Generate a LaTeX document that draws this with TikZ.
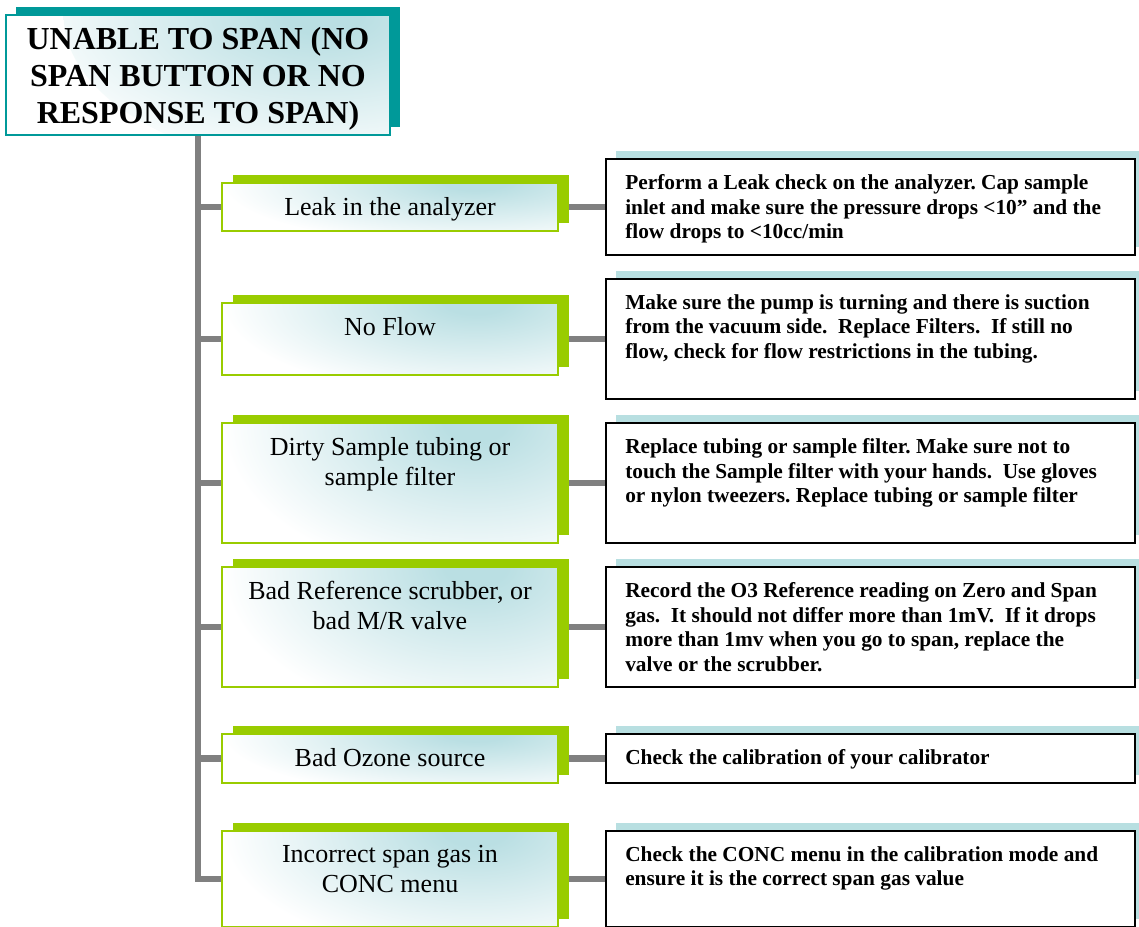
\documentclass[tikz,border=0pt]{standalone}
\usepackage{fontspec}
\setmainfont{Liberation Serif}
\usetikzlibrary{shadows,backgrounds,calc}

\definecolor{tealD}{RGB}{0,153,153}
\definecolor{grn}{RGB}{153,204,0}
\definecolor{tealS}{RGB}{184,223,225}
\definecolor{glowc}{RGB}{186,223,227}
\definecolor{connc}{RGB}{128,128,128}

% soft teal glow used inside the boxes (white from the ellipse rim outwards)
\pgfdeclareradialshading{glow}{\pgfpoint{0bp}{0bp}}{color(0bp)=(glowc); color(3bp)=(glowc); color(25bp)=(white); color(50bp)=(white)}

\tikzset{
  glowfill/.style={path picture={
    \shade[shading=glow] let \p1=(path picture bounding box.south west),
      \p2=(path picture bounding box.north east) in
      ({\x1+#1*(\x2-\x1)},{\y2}) ellipse ({0.75*(\x2-\x1)} and {1.3*(\y2-\y1)});
  }},
  titlebox/.style={draw=tealD, line width=1.5pt, fill=white, glowfill=0.9,
    general shadow={fill=tealD, shadow xshift=7.5pt, shadow yshift=6pt},
    minimum width=288pt, minimum height=90pt, inner sep=0pt, text depth=0pt,
    align=center, font=\bfseries\fontsize{24}{27.75}\selectfont},
  causebox/.style={draw=grn, line width=1.5pt, fill=white, glowfill=0.76,
    general shadow={fill=grn, shadow xshift=8.25pt, shadow yshift=6pt},
    minimum width=252pt, inner sep=0pt},
  fixbox/.style={draw=black, line width=1.5pt, fill=white,
    general shadow={fill=tealS, shadow xshift=7.5pt, shadow yshift=6pt},
    minimum width=396.75pt, inner sep=0pt},
  causetext/.style={anchor=north, inner sep=0pt, align=center,
    font=\fontsize{19.5}{22.5}\selectfont},
  fixtext/.style={anchor=north west, inner sep=0pt, align=left,
    font=\bfseries\fontsize{16}{18.4}\selectfont},
  link/.style={draw=connc, line width=5pt, line join=miter},
}

\begin{document}
\begin{tikzpicture}[x=0.75pt, y=-0.75pt]
\useasboundingbox (0,0) rectangle (1139,927);

% headline
\node[titlebox] (title) at (198,75) {UNABLE TO SPAN (NO\\SPAN BUTTON OR NO\\RESPONSE TO SPAN)};

% causes
\node[causebox, minimum height=36pt]    (l1) at (390,207)   {};
\node[causebox, minimum height=54pt]    (l2) at (390,339)   {};
\node[causebox, minimum height=90pt]    (l3) at (390,483)   {};
\node[causebox, minimum height=90pt]    (l4) at (390,627)   {};
\node[causebox, minimum height=36.75pt] (l5) at (390,758.5) {};
\node[causebox, minimum height=72pt]    (l6) at (390,879)   {};

\node[causetext] (l1t) at ([yshift=-11.25pt]l1.north) {Leak in the analyzer};
\node[causetext] (l2t) at ([yshift=-11.25pt]l2.north) {No Flow};
\node[causetext] (l3t) at ([yshift=-11.25pt]l3.north) {Dirty Sample tubing or\\sample filter};
\node[causetext] (l4t) at ([yshift=-11.25pt]l4.north) {Bad Reference scrubber, or\\bad M/R valve};
\node[causetext] (l5t) at ([yshift=-11.25pt]l5.north) {Bad Ozone source};
\node[causetext] (l6t) at ([yshift=-11.25pt]l6.north) {Incorrect span gas in\\CONC menu};

% remedies
\node[fixbox, minimum height=72pt]    (r1) at (870.5,207)   {};
\node[fixbox, minimum height=90pt]    (r2) at (870.5,339)   {};
\node[fixbox, minimum height=90pt]    (r3) at (870.5,483)   {};
\node[fixbox, minimum height=90pt]    (r4) at (870.5,627)   {};
\node[fixbox, minimum height=36.75pt] (r5) at (870.5,758.5) {};
\node[fixbox, minimum height=72pt]    (r6) at (870.5,879)   {};

\frenchspacing
\node[fixtext] (r1t) at ([xshift=15pt,yshift=-12.2pt]r1.north west)
  {Perform a Leak check on the analyzer. Cap sample\\inlet and make sure the pressure drops <10” and the\\flow drops to <10cc/min};
\node[fixtext] (r2t) at ([xshift=15pt,yshift=-12.2pt]r2.north west)
  {Make sure the pump is turning and there is suction\\from the vacuum side.\ \ Replace Filters.\ \ If still no\\flow, check for flow restrictions in the tubing.};
\node[fixtext] (r3t) at ([xshift=15pt,yshift=-12.2pt]r3.north west)
  {Replace tubing or sample filter. Make sure not to\\touch the Sample filter with your hands.\ \ Use gloves\\or nylon tweezers. Replace tubing or sample filter};
\node[fixtext] (r4t) at ([xshift=15pt,yshift=-12.2pt]r4.north west)
  {Record the O3 Reference reading on Zero and Span\\gas.\ \ It should not differ more than 1mV.\ \ If it drops\\more than 1mv when you go to span, replace the\\valve or the scrubber.};
\node[fixtext] (r5t) at ([xshift=15pt,yshift=-12.2pt]r5.north west)
  {Check the calibration of your calibrator};
\node[fixtext] (r6t) at ([xshift=15pt,yshift=-12.2pt]r6.north west)
  {Check the CONC menu in the calibration mode and\\ensure it is the correct span gas value};

% connectors
\begin{pgfonlayer}{background}
  \draw[link] (title.south) |- (l6.west);
  \foreach \i in {1,...,5} {
    \draw[link] (title.south |- l\i.west) -- (l\i.west);
  }
  \foreach \i in {1,...,6} {
    \draw[link] (l\i.east) -- (r\i.west);
  }
\end{pgfonlayer}
\end{tikzpicture}
\end{document}
